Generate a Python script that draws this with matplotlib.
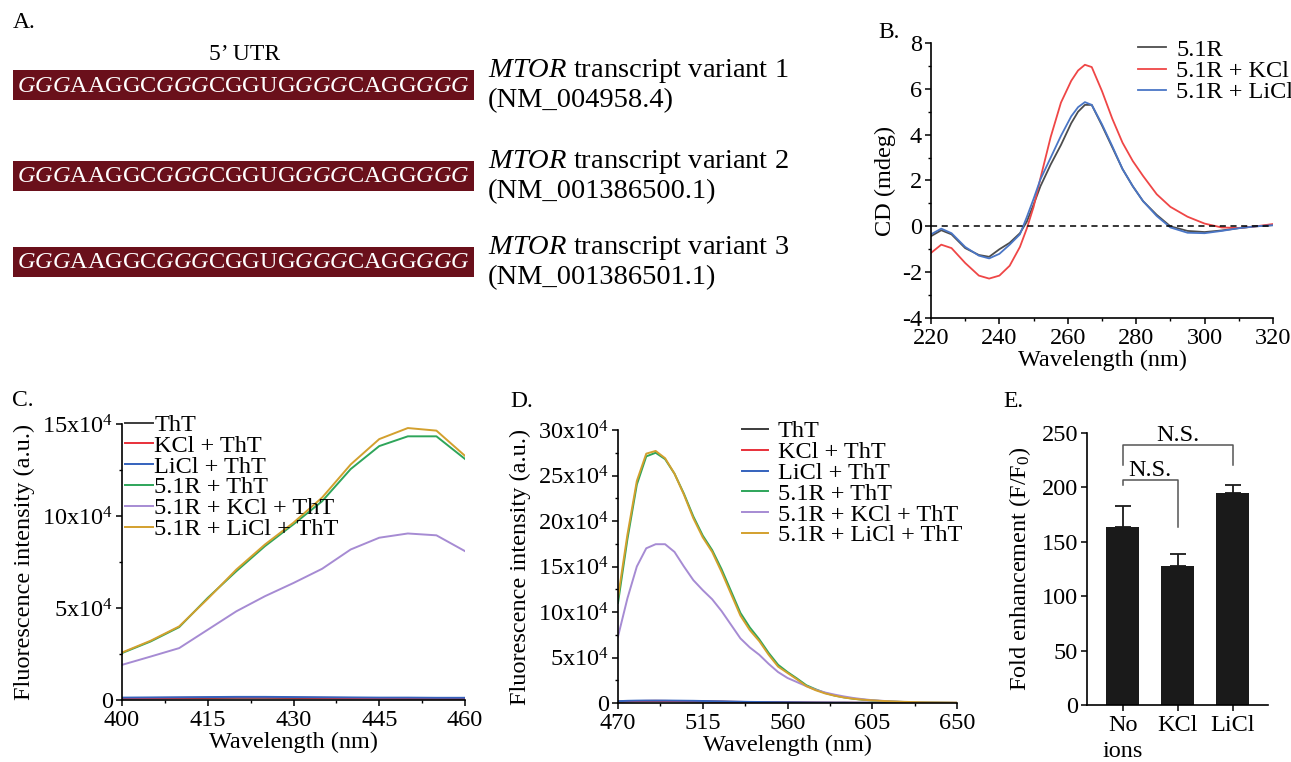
import matplotlib
matplotlib.use("Agg")
import matplotlib.pyplot as plt
from matplotlib.patches import Rectangle
from matplotlib.ticker import MultipleLocator

plt.rcParams['font.family'] = ['Liberation Serif', 'DejaVu Serif']
plt.rcParams['mathtext.fontset'] = 'custom'
plt.rcParams['mathtext.rm'] = 'Liberation Serif'
plt.rcParams['mathtext.it'] = 'Liberation Serif:italic'
plt.rcParams['mathtext.bf'] = 'Liberation Serif:bold'
plt.rcParams['axes.unicode_minus'] = False
plt.rcParams['font.size'] = 17.5
plt.rcParams['axes.linewidth'] = 1.2
plt.rcParams['xtick.major.width'] = 1.1
plt.rcParams['ytick.major.width'] = 1.1
plt.rcParams['xtick.minor.width'] = 1.0
plt.rcParams['ytick.minor.width'] = 1.0
plt.rcParams['xtick.major.size'] = 4
plt.rcParams['ytick.major.size'] = 4
plt.rcParams['xtick.minor.size'] = 2.5
plt.rcParams['ytick.minor.size'] = 2.5
plt.rcParams['xtick.major.pad'] = 3.5
plt.rcParams['ytick.major.pad'] = 2.5

# ---- Panel A: 5' UTR sequences ----
seq_parts = [("GGG", True), ("AAGGC", False), ("GGG", True), ("CGGUG", False),
             ("GGG", True), ("CAGG", False), ("GGG", True)]
variant_names = ["transcript variant 1", "transcript variant 2", "transcript variant 3"]
accessions = ["(NM_004958.4)", "(NM_001386500.1)", "(NM_001386501.1)"]

# ---- Panel B: CD spectra ----
cd_wl = [220, 223, 226, 230, 234, 237, 240, 243, 246, 248, 250, 252, 255, 258, 261,
         263, 265, 267, 270, 273, 276, 279, 282, 286, 290, 295, 300, 305, 310, 315, 320]
cd_51r = [-0.43, -0.17, -0.35, -0.95, -1.25, -1.33, -1.0, -0.72, -0.3, 0.2, 0.95, 1.75,
          2.7, 3.55, 4.5, 5.0, 5.3, 5.3, 4.4, 3.45, 2.5, 1.75, 1.1, 0.5, 0.0, -0.2,
          -0.25, -0.18, -0.08, 0.0, 0.05]
cd_kcl = [-1.16, -0.8, -0.95, -1.6, -2.15, -2.28, -2.15, -1.72, -0.9, -0.1, 0.85, 2.1,
          3.9, 5.4, 6.35, 6.8, 7.05, 6.95, 5.9, 4.7, 3.65, 2.85, 2.2, 1.4, 0.85, 0.42,
          0.12, -0.05, -0.07, 0.0, 0.1]
cd_licl = [-0.35, -0.1, -0.3, -0.9, -1.28, -1.4, -1.2, -0.8, -0.35, 0.4, 1.2, 2.05,
           3.0, 3.95, 4.8, 5.2, 5.42, 5.3, 4.45, 3.5, 2.5, 1.75, 1.1, 0.45, -0.05,
           -0.28, -0.3, -0.2, -0.08, 0.0, 0.05]
cd_labels = ["5.1R", "5.1R + KCl", "5.1R + LiCl"]
cd_colors = ["#4d4d4d", "#ef4646", "#4a76c6"]

# ---- Panel C: ThT fluorescence, 400-460 nm (x10^4) ----
c_wl = [400, 405, 410, 415, 420, 425, 430, 435, 440, 445, 450, 455, 460]
c_tht = [0.08, 0.09, 0.1, 0.11, 0.12, 0.12, 0.11, 0.1, 0.09, 0.09, 0.08, 0.08, 0.07]
c_kcl = [0.1, 0.11, 0.12, 0.13, 0.14, 0.14, 0.13, 0.12, 0.11, 0.1, 0.1, 0.09, 0.09]
c_licl = [0.13, 0.14, 0.15, 0.16, 0.17, 0.17, 0.16, 0.15, 0.14, 0.13, 0.13, 0.12, 0.12]
c_51r = [2.55, 3.18, 3.96, 5.55, 7.0, 8.36, 9.55, 10.8, 12.55, 13.8, 14.33, 14.33, 13.1]
c_51r_kcl = [1.91, 2.36, 2.82, 3.82, 4.82, 5.64, 6.36, 7.13, 8.18, 8.82, 9.05, 8.95, 8.09]
c_51r_licl = [2.58, 3.22, 4.0, 5.5, 7.09, 8.45, 9.64, 11.0, 12.8, 14.18, 14.78, 14.64, 13.27]
c_xticks = [400, 415, 430, 445, 460]

# ---- Panel D: ThT fluorescence, 470-650 nm (x10^4) ----
d_wl = list(range(470, 655, 5))
d_tht = [0.15, 0.18, 0.2, 0.21, 0.22, 0.21, 0.2, 0.19, 0.18, 0.17, 0.15, 0.14, 0.12,
         0.11, 0.09, 0.08, 0.07, 0.06, 0.05, 0.05, 0.04, 0.04, 0.03, 0.03, 0.03, 0.02,
         0.02, 0.02, 0.02, 0.01, 0.01, 0.01, 0.01, 0.01, 0.01, 0.01, 0.01]
d_kcl = [0.17, 0.2, 0.22, 0.23, 0.24, 0.23, 0.22, 0.21, 0.2, 0.18, 0.16, 0.15, 0.13,
         0.12, 0.1, 0.09, 0.08, 0.07, 0.06, 0.05, 0.05, 0.04, 0.04, 0.03, 0.03, 0.03,
         0.02, 0.02, 0.02, 0.02, 0.01, 0.01, 0.01, 0.01, 0.01, 0.01, 0.01]
d_licl = [0.2, 0.24, 0.26, 0.27, 0.27, 0.27, 0.26, 0.25, 0.24, 0.22, 0.2, 0.18, 0.16,
          0.14, 0.12, 0.11, 0.1, 0.09, 0.08, 0.07, 0.06, 0.05, 0.05, 0.04, 0.04, 0.03,
          0.03, 0.03, 0.02, 0.02, 0.02, 0.02, 0.01, 0.01, 0.01, 0.01, 0.01]
d_51r = [11.0, 18.0, 24.0, 27.1, 27.5, 26.8, 25.2, 23.0, 20.5, 18.4, 16.8, 14.7, 12.3,
         9.9, 8.3, 7.0, 5.5, 4.2, 3.4, 2.7, 1.95, 1.5, 1.1, 0.82, 0.62, 0.47, 0.36,
         0.28, 0.21, 0.16, 0.12, 0.09, 0.06, 0.04, 0.03, 0.02, 0.01]
d_51r_kcl = [7.3, 11.5, 15.0, 17.0, 17.45, 17.45, 16.6, 15.0, 13.5, 12.4, 11.4, 10.1,
             8.6, 7.1, 6.1, 5.3, 4.3, 3.4, 2.75, 2.3, 1.85, 1.45, 1.15, 0.92, 0.72,
             0.55, 0.42, 0.31, 0.24, 0.18, 0.13, 0.09, 0.06, 0.04, 0.03, 0.02, 0.01]
d_51r_licl = [11.6, 18.5, 24.4, 27.4, 27.7, 26.9, 25.2, 22.9, 20.3, 18.2, 16.6, 14.4,
              12.0, 9.6, 8.0, 6.8, 5.3, 4.0, 3.3, 2.6, 1.85, 1.4, 1.05, 0.8, 0.6, 0.46,
              0.36, 0.29, 0.23, 0.18, 0.14, 0.11, 0.08, 0.06, 0.05, 0.04, 0.03]
d_xticks = [470, 515, 560, 605, 650]
tht_labels = ["ThT", "KCl + ThT", "LiCl + ThT", "5.1R + ThT", "5.1R + KCl + ThT",
              "5.1R + LiCl + ThT"]
tht_colors = ["#3c3c3c", "#e8303a", "#3462bd", "#2ea55a", "#a68bd3", "#d3a02e"]

# ---- Panel E: fold enhancement ----
conditions = ["No\nions", "KCl", "LiCl"]
fold = [164, 128, 195]
fold_err = [19, 10.5, 7.5]
sig_pairs = [(0, 1), (0, 2)]
sig_heights = [206.5, 238.7]
sig_left_ends = [202, 221]
sig_right_ends = [163.7, 221]

W, H = 1291, 762
fig = plt.figure(figsize=(W / 100, H / 100), dpi=100)


def px_rect(left, top, right, bottom):
    return [left / W, 1 - bottom / H, (right - left) / W, (bottom - top) / H]


def style(ax):
    ax.spines['top'].set_visible(False)
    ax.spines['right'].set_visible(False)
    ax.tick_params(which='both', direction='out')


# Panel A drawn on a pixel-space overlay
axA = fig.add_axes([0, 0, 1, 1])
axA.set_xlim(0, W)
axA.set_ylim(H, 0)
axA.axis('off')
seq_tex = "$" + "".join(("\\mathit{%s}" if it else "\\mathrm{%s}") % s
                        for s, it in seq_parts) + "$"
box_centers = [85, 176, 262]
axA.text(245, 54, "5’ UTR", ha='center', va='center', fontsize=17)
for yc, vname, acc in zip(box_centers, variant_names, accessions):
    axA.add_patch(Rectangle((13, yc - 15), 461, 30, color="#6a101b", lw=0))
    axA.text(243, yc + 1, seq_tex, ha='center', va='center', color='white',
             fontsize=17.5)
    axA.text(488, yc - 14, "$\\mathit{MTOR}$ " + vname, ha='left', va='center',
             fontsize=20.5)
    axA.text(488, yc + 16, acc, ha='left', va='center', fontsize=20.5)

# panel letters
for lab, (x, y) in zip(["A.", "B.", "C.", "D.", "E."],
                       [(13, 22), (878, 32), (12, 401), (510, 402), (1003, 402)]):
    fig.text(x / W, 1 - y / H, lab, ha='left', va='center', fontsize=17)

# Panel B
axB = fig.add_axes(px_rect(931, 43, 1273, 318))
for y, lab, c in zip([cd_51r, cd_kcl, cd_licl], cd_labels, cd_colors):
    axB.plot(cd_wl, y, color=c, lw=1.3, label=lab)
axB.axhline(0, color='black', ls=(0, (4, 3)), lw=1.1)
axB.set_xlim(220, 320)
axB.set_ylim(-4, 8)
axB.xaxis.set_major_locator(MultipleLocator(20))
axB.xaxis.set_minor_locator(MultipleLocator(10))
axB.yaxis.set_major_locator(MultipleLocator(2))
axB.yaxis.set_minor_locator(MultipleLocator(1))
axB.set_xlabel("Wavelength (nm)", labelpad=0)
axB.set_ylabel("CD (mdeg)", labelpad=4)
style(axB)
axB.legend(loc='upper left', bbox_to_anchor=(0.605, 1.015), frameon=False,
           borderpad=0, borderaxespad=0, handlelength=1.15, handletextpad=0.42,
           labelspacing=-0.03)

# Panel C
axC = fig.add_axes(px_rect(122, 424, 465, 700))
for y, lab, c in zip([c_tht, c_kcl, c_licl, c_51r, c_51r_kcl, c_51r_licl],
                     tht_labels, tht_colors):
    axC.plot(c_wl, [v * 1e4 for v in y], color=c, lw=1.4, label=lab)
axC.set_xlim(400, 460)
axC.set_ylim(0, 15e4)
axC.set_xticks(c_xticks)
axC.set_xticks([400 + 7.5 * k for k in range(9)], minor=True)
axC.set_yticks([0, 5e4, 10e4, 15e4])
axC.set_yticklabels(["0", "5x10$^4$", "10x10$^4$", "15x10$^4$"])
axC.yaxis.set_minor_locator(MultipleLocator(2.5e4))
axC.set_xlabel("Wavelength (nm)", labelpad=0)
axC.set_ylabel("Fluorescence intensity (a.u.)", labelpad=5)
style(axC)
axC.legend(loc='upper left', bbox_to_anchor=(0.009, 1.036), frameon=False,
           borderpad=0, borderaxespad=0, handlelength=1.15, handletextpad=0.05,
           labelspacing=-0.05)

# Panel D
axD = fig.add_axes(px_rect(618, 430, 957, 703))
for y, lab, c in zip([d_tht, d_kcl, d_licl, d_51r, d_51r_kcl, d_51r_licl],
                     tht_labels, tht_colors):
    axD.plot(d_wl, [v * 1e4 for v in y], color=c, lw=1.4, label=lab)
axD.set_xlim(470, 650)
axD.set_ylim(0, 30e4)
axD.set_xticks(d_xticks)
axD.set_xticks([470 + 22.5 * k for k in range(9)], minor=True)
axD.set_yticks([0, 5e4, 10e4, 15e4, 20e4, 25e4, 30e4])
axD.set_yticklabels(["0", "5x10$^4$", "10x10$^4$", "15x10$^4$", "20x10$^4$",
                     "25x10$^4$", "30x10$^4$"])
axD.yaxis.set_minor_locator(MultipleLocator(2.5e4))
axD.set_xlabel("Wavelength (nm)", labelpad=0)
axD.set_ylabel("Fluorescence intensity (a.u.)", labelpad=5)
style(axD)
axD.legend(loc='upper left', bbox_to_anchor=(0.366, 1.035), frameon=False,
           borderpad=0, borderaxespad=0, handlelength=1.06, handletextpad=0.42,
           labelspacing=-0.05)

# Panel E
axE = fig.add_axes(px_rect(1087, 433, 1268, 705))
xpos = list(range(len(conditions)))
axE.bar(xpos, fold, width=0.6, color='#1a1a1a', zorder=2)
axE.errorbar(xpos, fold, yerr=[[0] * len(fold), fold_err], fmt='none',
             ecolor='#1a1a1a', elinewidth=1.3, capsize=6, capthick=1.3, zorder=1)
for (i, j), h, lo_i, lo_j in zip(sig_pairs, sig_heights, sig_left_ends, sig_right_ends):
    axE.plot([i, i, j, j], [lo_i, h, h, lo_j], color='#555555', lw=1.1, clip_on=False)
    axE.text((i + j) / 2, h - 0.5, "N.S.", ha='center', va='bottom', fontsize=17.5,
             clip_on=False)
axE.set_xlim(-0.65, 2.64)
axE.set_ylim(0, 250)
axE.set_xticks(xpos)
axE.set_xticklabels(conditions, linespacing=1.3)
axE.yaxis.set_major_locator(MultipleLocator(50))
axE.set_ylabel("Fold enhancement (F/F$_0$)", labelpad=6)
style(axE)

fig.savefig("out.png", dpi=100)
